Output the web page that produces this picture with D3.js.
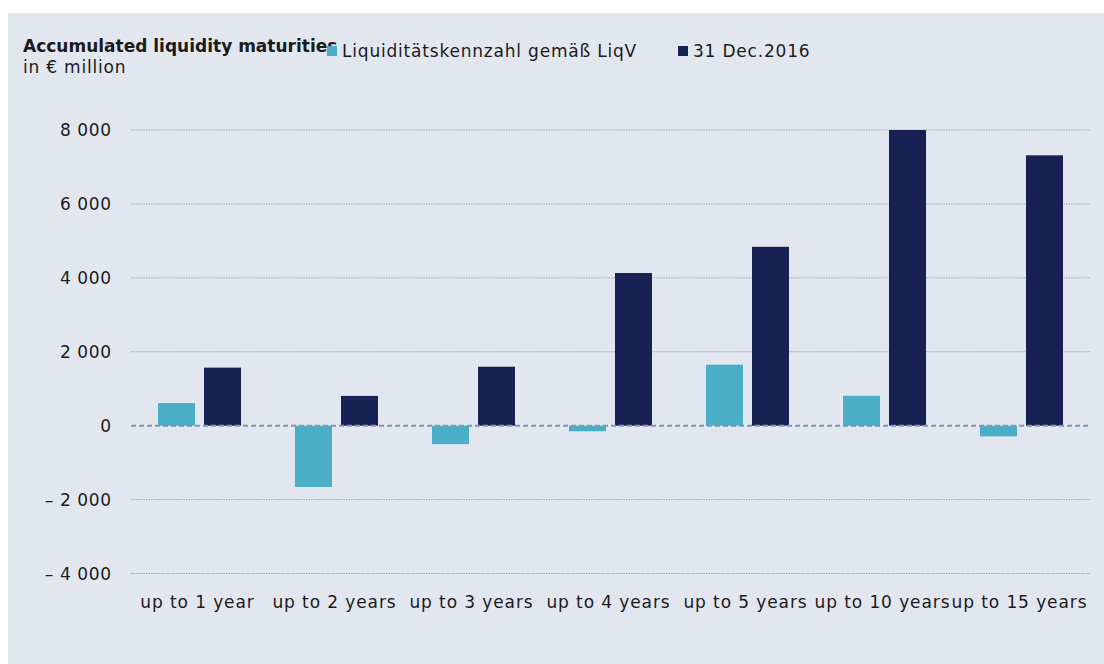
<!DOCTYPE html>
<html><head><meta charset="utf-8">
<script src="https://cdn.jsdelivr.net/npm/d3@7"></script>
<style>body{margin:0;background:#fff;} svg{display:block;} text{font-family:"DejaVu Sans", sans-serif;fill:#1b1b1b;}</style>
</head><body><svg id="c" width="1104" height="664"></svg>
<script>
const categories = ["up to 1 year","up to 2 years","up to 3 years","up to 4 years","up to 5 years","up to 10 years","up to 15 years"];
const liqV = [610, -1660, -500, -150, 1650, 810, -290];
const dec2016 = [1570, 805, 1595, 4130, 4840, 8000, 7315];
const yTicks = [-4000, -2000, 0, 2000, 4000, 6000, 8000];
const seriesNames = ["Liquiditätskennzahl gemäß LiqV", "31 Dec.2016"];
const colors = ["#4aaec7", "#182153"];

const svg = d3.select("#c");
svg.append("rect").attr("x",8).attr("y",13).attr("width",1096).attr("height",651).attr("fill","#e2e7ef");

const x = d3.scaleBand().domain(categories).range([131,1090]).padding(0);
const inner = d3.scaleBand().domain([0,1]).range([27,110]).paddingInner(0.1957).paddingOuter(0);
const y = d3.scaleLinear().domain([-4000,8000]).range([573.5,130]);

const fmt = v => (v<0 ? "\u2013 " : "") + d3.format(",")(Math.abs(v)).replace(/,/g," ");

const g = svg.append("g");
g.selectAll("line.grid").data(yTicks.filter(d=>d!==0)).enter().append("line")
  .attr("x1",131).attr("x2",1090).attr("y1",d=>y(d)).attr("y2",d=>y(d))
  .attr("stroke","#98a9bf").attr("stroke-width",1).attr("stroke-dasharray","1.5,1");

g.selectAll("text.yl").data(yTicks).enter().append("text")
  .attr("x",111.6).attr("y",d=>y(d)+6).attr("text-anchor","end")
  .style("font-size","17px").style("letter-spacing","0.6px").text(fmt);

const series = [liqV, dec2016];
series.forEach((vals,si)=>{
  svg.append("g").selectAll("rect").data(vals).enter().append("rect")
    .attr("x",(d,i)=>x(categories[i])+inner(si))
    .attr("width",inner.bandwidth())
    .attr("y",d=>y(Math.max(0,d)))
    .attr("height",d=>Math.abs(y(d)-y(0)))
    .attr("fill",colors[si]);
});

svg.append("line").attr("x1",131).attr("x2",1090).attr("y1",y(0)).attr("y2",y(0))
  .attr("stroke","#7f97b3").attr("stroke-width",2).attr("stroke-dasharray","5,3");

svg.append("g").selectAll("text").data(categories).enter().append("text")
  .attr("x",d=>x(d)+x.bandwidth()/2 - 2).attr("y",608).attr("text-anchor","middle")
  .style("font-size","17px").style("letter-spacing","0.9px").text(d=>d);

svg.append("text").attr("x",23).attr("y",52).style("font-size","17px").style("font-weight","bold").text("Accumulated liquidity maturities");
svg.append("text").attr("x",23).attr("y",73).style("font-size","17px").style("letter-spacing","0.8px").text("in € million");

const legX = [327, 678];
seriesNames.forEach((n,i)=>{
  svg.append("rect").attr("x",legX[i]).attr("y",46).attr("width",10).attr("height",10).attr("fill",colors[i]);
  svg.append("text").attr("x",legX[i]+15).attr("y",57).style("font-size","17px").style("letter-spacing","0.8px").text(n);
});
</script></body></html>
